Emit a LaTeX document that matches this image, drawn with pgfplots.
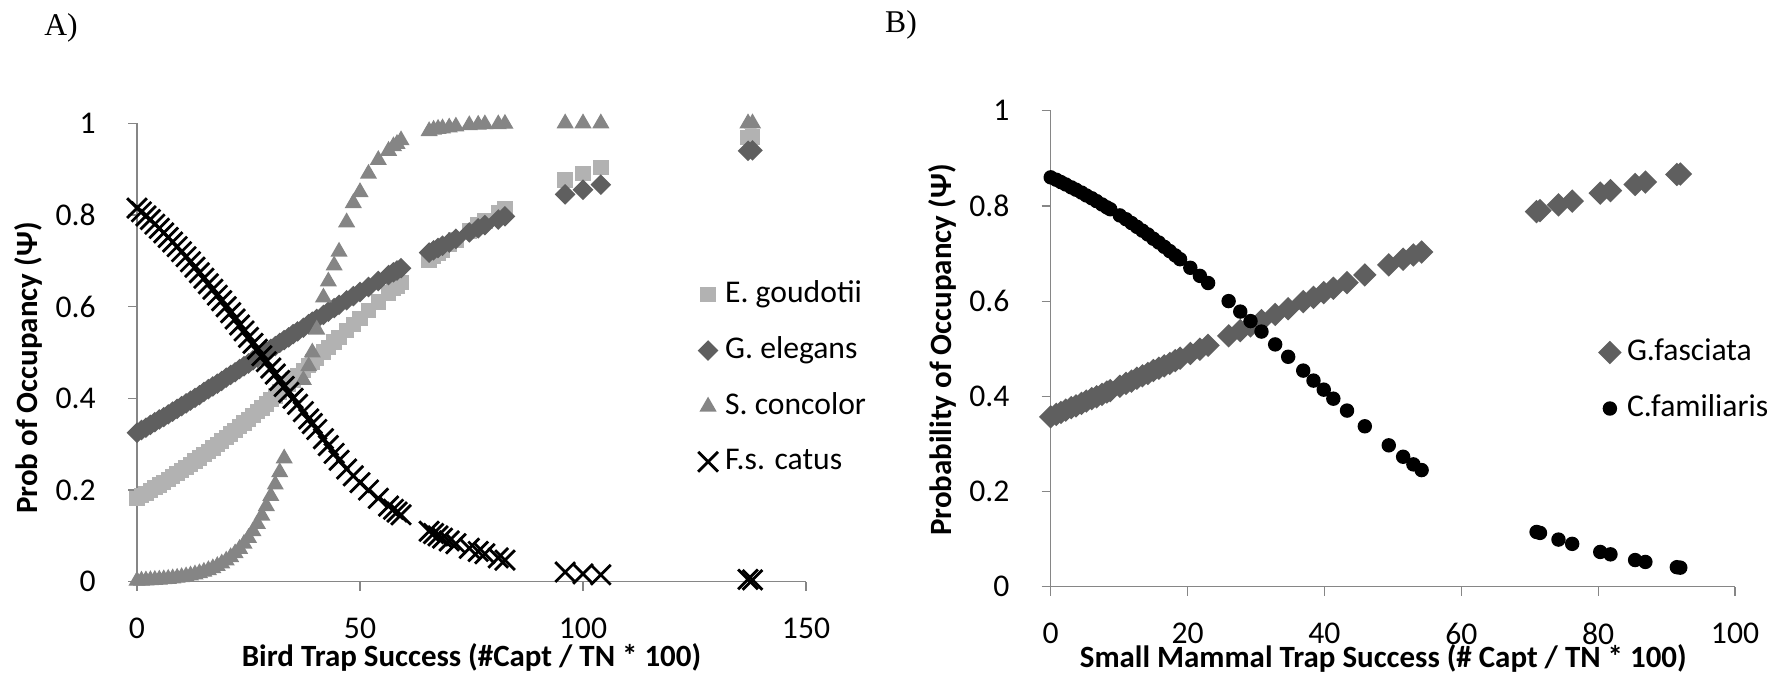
\documentclass[border=0pt]{standalone}
\usepackage{fontspec}
\setmainfont{Carlito}
\newfontfamily\timesfont{Liberation Serif}
\usepackage{pgfplots}
\usepackage{pgfplotstable}
\pgfplotsset{compat=1.18}
\definecolor{axgray}{HTML}{868686}
\definecolor{cE}{HTML}{B2B2B2}
\definecolor{cG}{HTML}{5F5F5F}
\definecolor{cS}{HTML}{858585}

\pgfplotstableread{
x E G S F
0 0.182 0.325 0.002 0.815
1 0.188 0.331 0.0025 0.807
2 0.193 0.336 0.0029 0.798
3 0.199 0.342 0.0034 0.790
4 0.205 0.348 0.0040 0.780
5 0.211 0.354 0.0046 0.771
6 0.217 0.359 0.0054 0.761
7 0.223 0.365 0.0063 0.751
8 0.229 0.371 0.0074 0.741
9 0.236 0.377 0.0086 0.731
10 0.242 0.383 0.0101 0.720
11 0.249 0.389 0.0118 0.709
12 0.256 0.395 0.0137 0.698
13 0.263 0.401 0.0160 0.686
14 0.270 0.407 0.0186 0.674
15 0.277 0.414 0.0217 0.662
16 0.284 0.420 0.0253 0.650
17 0.292 0.426 0.0294 0.638
18 0.299 0.432 0.0342 0.625
19 0.307 0.438 0.0398 0.613
20 0.314 0.445 0.0462 0.600
21 0.322 0.451 0.0536 0.587
22 0.330 0.457 0.0620 0.573
23 0.338 0.464 0.0717 0.560
24 0.346 0.470 0.0829 0.547
25 0.354 0.476 0.0955 0.533
26 0.363 0.483 0.110 0.520
27 0.371 0.489 0.126 0.507
28 0.379 0.495 0.144 0.493
29 0.388 0.502 0.165 0.480
30 0.397 0.508 0.187 0.466
31 0.405 0.514 0.212 0.453
32 0.414 0.521 0.239 0.439
33 0.423 0.527 0.269 0.426
34 0.431 0.533 nan 0.413
35 0.440 0.540 nan 0.400
36 0.449 0.546 nan 0.387
37.3 0.461 0.554 0.440 0.371
38.5 0.472 0.562 0.470 0.355
39.3 0.479 0.567 0.500 0.345
40.3 0.488 0.573 0.550 0.332
41.8 0.501 0.582 0.620 0.312
42.9 0.511 0.589 0.655 0.297
44.2 0.523 0.597 0.690 0.280
45.3 0.533 0.604 0.720 0.265
47 0.548 0.614 0.784 0.246
48.5 0.561 0.623 0.826 0.231
50 0.574 0.632 0.850 0.216
51.9 0.591 0.643 0.890 0.200
54.1 0.610 0.656 0.920 0.182
56.4 0.630 0.669 0.940 0.165
57.5 0.639 0.675 0.950 0.158
58.3 0.645 0.679 0.955 0.152
59.2 0.653 0.684 0.963 0.146
65.5 0.702 0.718 0.983 0.110
66.5 0.710 0.723 0.986 0.105
67.5 0.717 0.728 0.988 0.100
68.5 0.724 0.733 0.989 0.095
70 0.735 0.740 0.991 0.089
71.5 0.745 0.748 0.993 0.083
74.5 0.765 0.762 0.996 0.073
76.5 0.778 0.771 0.997 0.066
78 0.787 0.778 0.998 0.061
81 0.805 0.790 0.998 0.052
82.5 0.813 0.797 0.999 0.047
96 0.876 0.845 1.0 0.021
100 0.891 0.855 1.0 0.017
104 0.904 0.866 1.0 0.015
137 0.969 0.940 1.0 0.005
138 0.970 0.941 1.0 0.004
}\tabA

\pgfplotstableread{
x G C
0 0.357 0.860
0.8 0.362 0.855
1.5 0.366 0.850
2.2 0.371 0.845
3 0.376 0.839
3.7 0.380 0.834
4.5 0.385 0.828
5.2 0.390 0.822
6 0.395 0.816
6.7 0.399 0.810
7.5 0.404 0.803
8.2 0.409 0.797
8.7 0.412 0.793
10.1 0.421 0.780
11 0.427 0.772
11.8 0.432 0.764
12.6 0.438 0.756
13.4 0.443 0.748
14.2 0.448 0.740
15 0.454 0.731
15.8 0.459 0.723
16.6 0.464 0.714
17.4 0.469 0.705
18.2 0.475 0.696
18.9 0.480 0.688
20.4 0.490 0.670
21.8 0.499 0.653
23 0.507 0.638
26 0.527 0.600
27.7 0.538 0.578
29.2 0.548 0.558
30.8 0.559 0.536
32.8 0.572 0.509
34.7 0.584 0.483
36.9 0.599 0.454
38.4 0.608 0.433
39.9 0.618 0.414
41.3 0.627 0.395
43.3 0.639 0.370
45.9 0.655 0.337
49.4 0.676 0.297
51.5 0.688 0.273
53 0.697 0.257
54.2 0.703 0.245
71 0.788 0.115
71.5 0.790 0.113
74.2 0.802 0.099
76.2 0.810 0.090
80.3 0.827 0.073
81.8 0.832 0.068
85.4 0.845 0.056
86.9 0.850 0.052
91.5 0.866 0.041
92 0.867 0.040
}\tabB

\pgfplotsset{excel/.style={
  scale only axis, clip=false,
  axis x line*=bottom, axis y line*=left,
  axis line style={draw=axgray, line width=0.12mm},
  tick style={draw=axgray, line width=0.12mm},
  tick align=outside, major tick length=0.9mm,
  tick label style={font=\fontsize{9}{10}\selectfont},
  /pgf/number format/assume math mode=true,
  xticklabel style={yshift=-1.5mm},
  yticklabel style={xshift=-2mm},
  label style={font=\bfseries\fontsize{8.8}{10}\selectfont},
  ymin=0, ymax=1, ytick={0,0.2,0.4,0.6,0.8,1},
  unbounded coords=discard,
  legend style={draw=none, fill=none, font=\fontsize{9}{11}\selectfont,
    row sep=2.6mm, nodes={inner sep=0.4pt}},
  legend cell align=left,
  legend image code/.code={\draw[##1] plot coordinates {(0cm,0cm)}; \path (1.5mm,0mm);},
}}

\begin{document}
\begin{tikzpicture}
\useasboundingbox (0,0) rectangle (178.5mm,67.8mm);
\node[font=\timesfont\fontsize{9}{10}\selectfont] at (6.1mm,65mm) {A)};
\node[font=\timesfont\fontsize{9}{10}\selectfont] at (90.1mm,65.3mm) {B)};

\begin{axis}[excel, at={(13.7mm,9.63mm)}, anchor=south west,
  width=66.9mm, height=45.84mm,
  xmin=0, xmax=150, xtick={0,50,100,150},
  xlabel={Bird Trap Success (\#Capt / TN * 100)},
  ylabel={Prob of Occupancy (Ψ)},
  xlabel style={at={(axis description cs:0.5,-0.166)}, anchor=center},
  ylabel style={at={(axis description cs:-0.163,0.466)}, anchor=center},
  legend style={at={(axis description cs:0.822,0.445)}, anchor=west}]
\addplot[only marks, mark=square*, mark size=0.7mm, mark options={draw=cE, fill=cE}] table[x=x, y=E] {\tabA};
\addlegendentry{E. goudotii}
\addplot[only marks, mark=square*, mark size=0.66mm, mark options={rotate=45, draw=cG, fill=cG}] table[x=x, y=G] {\tabA};
\addlegendentry{G. elegans}
\addplot[only marks, mark=triangle*, mark size=0.85mm, mark options={draw=cS, fill=cS}] table[x=x, y=S] {\tabA};
\addlegendentry{S. concolor}
\addplot[only marks, mark=x, mark size=1.4mm, mark options={draw=black, line width=0.28mm}] table[x=x, y=F] {\tabA};
\addlegendentry{F.s. catus}
\end{axis}

\begin{axis}[excel, at={(105.07mm,9.13mm)}, anchor=south west,
  width=68.43mm, height=47.6mm,
  xmin=0, xmax=100, xtick={0,20,40,60,80,100},
  xlabel={Small Mammal Trap Success (\# Capt / TN * 100)},
  ylabel={Probability of Occupancy (Ψ)},
  xlabel style={at={(axis description cs:0.486,-0.150)}, anchor=center},
  ylabel style={at={(axis description cs:-0.158,0.497)}, anchor=center},
  legend style={at={(axis description cs:0.785,0.433)}, anchor=west}]
\addplot[only marks, mark=square*, mark size=0.76mm, mark options={rotate=45, draw=cG, fill=cG}] table[x=x, y=G] {\tabB};
\addlegendentry{G.fasciata}
\addplot[only marks, mark=*, mark size=0.65mm, mark options={draw=black, fill=black}] table[x=x, y=C] {\tabB};
\addlegendentry{C.familiaris}
\end{axis}
\end{tikzpicture}
\end{document}
